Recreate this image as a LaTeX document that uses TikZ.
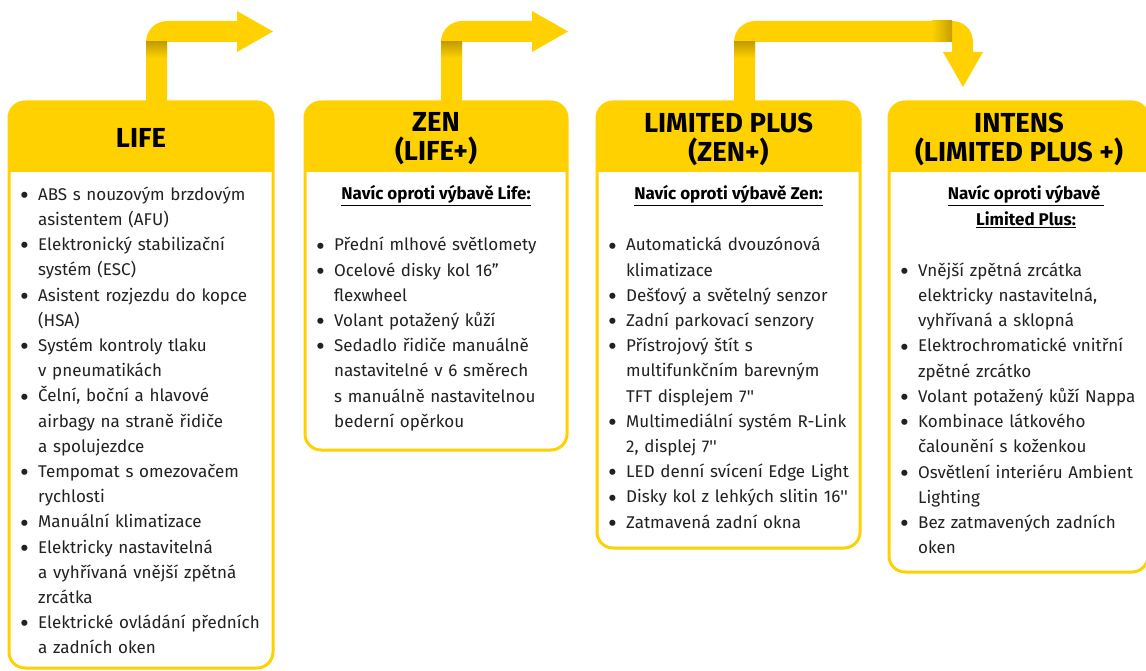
\documentclass[tikz,border=0pt]{standalone}
\usepackage{fontspec}
\setmainfont{Fira Sans}
\usetikzlibrary{positioning, calc}
\definecolor{rnyellow}{RGB}{255,209,0}
\definecolor{rnshade}{RGB}{196,158,0}
\definecolor{rntext}{RGB}{33,33,33}

% box of one trim level, yellow band on top
\newcommand{\trimbox}[3]{%
  \draw[rnyellow, line width=3pt, fill=white, rounded corners=16pt] (#1,102) rectangle (#2,#3);
  \begin{scope}
    \clip[rounded corners=16pt] (#1,102) rectangle (#2,#3);
    \fill[rnyellow] (#1,102) rectangle (#2,172);
  \end{scope}}
% fat arrow rising from the band and turning right
\newcommand{\risearrow}[1]{%
  \fill[rnyellow] (#1,102) -- (#1,42) .. controls (#1,30) and (#1+10,21) .. (#1+21,21)
    -- (#1+91,21) -- (#1+91,11) -- (#1+127,31.5) -- (#1+91,52) -- (#1+91,42)
    -- (#1+21,42) -- (#1+21,102) -- cycle;
  \shade[top color=rnshade, bottom color=rnyellow] (#1,42) rectangle (#1+21,58);}
\newcommand{\bitem}[1]{\par\begingroup\let\\\newline\hangindent=18pt\hangafter=1\noindent
  \makebox[18pt][l]{\raisebox{-4.2pt}[0pt][0pt]{\fontsize{27}{0}\selectfont\textbullet}}\strut#1\par\endgroup}
\newcommand{\inch}{\textquotesingle\textquotesingle}

\begin{document}
\begin{tikzpicture}[x=1pt, y=-1pt,
    headtxt/.style={font=\fontsize{27.5}{29}\selectfont\bfseries, align=center, text=black, inner sep=0},
    notetxt/.style={font=\fontsize{17}{25.2}\selectfont\bfseries, text=black, inner sep=0, anchor=base},
    listtxt/.style={font=\fontsize{17}{25.2}\selectfont, text=rntext, text width=256pt,
      execute at begin node=\raggedright, anchor=north west, inner sep=0}]
  \useasboundingbox (0,0) rectangle (1146,671);

  % arrows
  \risearrow{146}
  \risearrow{441}
  \fill[rnyellow] (734,102) -- (734,42) .. controls (734,30) and (744,21) .. (755,21)
    -- (952,21) .. controls (964,21) and (973,30) .. (973,42) -- (973,52) -- (983,52)
    -- (963,87) -- (943,52) -- (952,52) -- (952,42) -- (755,42) -- (755,102) -- cycle;
  \shade[top color=rnshade, bottom color=rnyellow] (734,42) rectangle (755,58);
  \shade[left color=rnyellow, right color=rnshade] (932,21) rectangle (952,42);

  % boxes
  \trimbox{9}{273}{668}
  \trimbox{305}{567}{450}
  \trimbox{597}{860}{548}
  \trimbox{889}{1148}{572}

  \node[headtxt] (lifehead) at (141,137.5) {LIFE};
  \node[headtxt] (zenhead) at (436,139) {ZEN\\(LIFE+)};
  \node[headtxt] (limitedhead) at (728.5,139) {LIMITED PLUS\\(ZEN+)};
  \node[headtxt] (intenshead) at (1019,139) {INTENS\\(LIMITED PLUS +)};

  \node[notetxt] (zennote) at (436,200) {\underline{Navíc oproti výbavě Life:}};
  \node[notetxt] (limitednote) at (728.5,200) {\underline{Navíc oproti výbavě Zen:}};
  \node[notetxt] (intensnote) at (1026,200) {\underline{Navíc oproti výbavě\ }};
  \node[notetxt] (intensnote2) at (1026,225.2) {\underline{Limited Plus:}};

  \node[listtxt] (lifelist) at (20,175) {%
    \bitem{ABS s nouzovým brzdovým\\asistentem (AFU)}
    \bitem{Elektronický stabilizační\\systém (ESC)}
    \bitem{Asistent rozjezdu do kopce\\(HSA)}
    \bitem{Systém kontroly tlaku\\v pneumatikách}
    \bitem{Čelní, boční a hlavové\\airbagy na straně řidiče\\a spolujezdce}
    \bitem{Tempomat s omezovačem\\rychlosti}
    \bitem{Manuální klimatizace}
    \bitem{Elektricky nastavitelná\\a vyhřívaná vnější zpětná\\zrcátka}
    \bitem{Elektrické ovládání předních\\a zadních oken}};

  \node[listtxt] (zenlist) at (316,225.5) {%
    \bitem{Přední mlhové světlomety}
    \bitem{Ocelové disky kol 16''\\flexwheel}
    \bitem{Volant potažený kůží}
    \bitem{Sedadlo řidiče manuálně\\nastavitelné v 6 směrech\\s manuálně nastavitelnou\\bederní opěrkou}};

  \node[listtxt] (limitedlist) at (608,225.5) {%
    \bitem{Automatická dvouzónová\\klimatizace}
    \bitem{Dešťový a světelný senzor}
    \bitem{Zadní parkovací senzory}
    \bitem{Přístrojový štít s\\multifunkčním barevným\\TFT displejem 7\inch}
    \bitem{Multimediální systém R-Link\\2, displej 7\inch}
    \bitem{LED denní svícení Edge Light}
    \bitem{Disky kol z lehkých slitin 16\inch}
    \bitem{Zatmavená zadní okna}};

  \node[listtxt] (intenslist) at (900,251) {%
    \bitem{Vnější zpětná zrcátka\\elektricky nastavitelná,\\vyhřívaná a sklopná}
    \bitem{Elektrochromatické vnitřní\\zpětné zrcátko}
    \bitem{Volant potažený kůží Nappa}
    \bitem{Kombinace látkového\\čalounění s koženkou}
    \bitem{Osvětlení interiéru Ambient\\Lighting}
    \bitem{Bez zatmavených zadních\\oken}};
\end{tikzpicture}
\end{document}
